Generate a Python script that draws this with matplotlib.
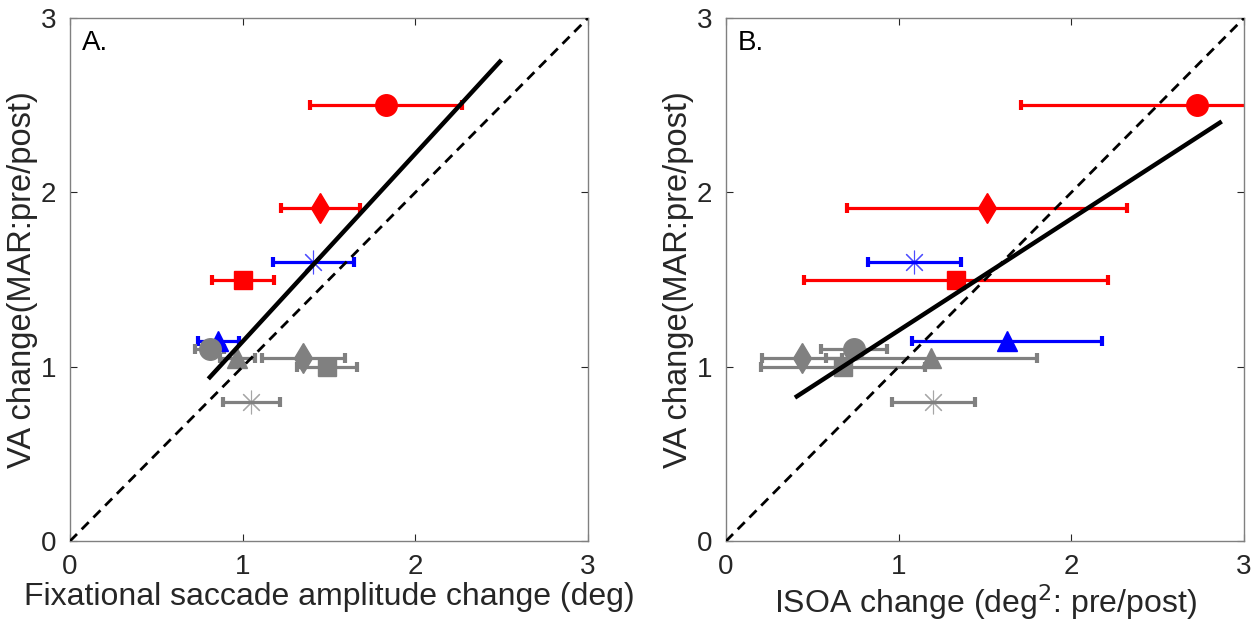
# -*- coding: utf-8 -*-
import matplotlib
matplotlib.use('Agg')
import matplotlib.pyplot as plt

plt.rcParams['font.family'] = ['Liberation Sans', 'DejaVu Sans']

# one entry per condition, same order in both panels
markers = ['o', 'd', 'ast', 's', '^', 'o', '^', 'd', 's', 'ast']
colors = ['red', 'red', 'blue', 'red', 'blue', 'gray', 'gray', 'gray', 'gray', 'gray']
va_change = [2.5, 1.91, 1.6, 1.5, 1.15, 1.10, 1.05, 1.05, 1.0, 0.8]

sacc_change = [1.83, 1.45, 1.41, 1.0, 0.86, 0.81, 0.97, 1.35, 1.49, 1.05]
sacc_err = [0.44, 0.23, 0.235, 0.18, 0.12, 0.085, 0.10, 0.24, 0.175, 0.165]

isoa_change = [2.73, 1.51, 1.09, 1.33, 1.63, 0.74, 1.19, 0.44, 0.68, 1.20]
isoa_err = [1.02, 0.81, 0.27, 0.88, 0.55, 0.19, 0.61, 0.23, 0.475, 0.24]

# regression line end points
fitA_x = [0.81, 2.49]
fitA_y = [0.94, 2.75]
fitB_x = [0.41, 2.86]
fitB_y = [0.83, 2.40]

ticks = [0, 1, 2, 3]

marker_size = {'o': 15.5, 'd': 15, 's': 12.5, '^': 15, 'ast': 17}


def panel(ax, x, xerr, fit_x, fit_y, xlabel, letter):
    for xi, ei, yi, m, c in zip(x, xerr, va_change, markers, colors):
        ax.errorbar(xi, yi, xerr=ei, fmt='none', ecolor=c, elinewidth=2.3,
                    capsize=3.3, capthick=3, zorder=2)
        if m == 'ast':
            ax.plot(xi, yi, marker=(8, 2, 0), ms=marker_size[m], mec=c,
                    mew=0.8, alpha=0.7, ls='none', zorder=3)
        else:
            ax.plot(xi, yi, marker=m, ms=marker_size[m], mfc=c, mec=c,
                    ls='none', zorder=3)

    ax.plot([0, 3], [0, 3], color='k', lw=2, ls=(0, (3.6, 2.4)), zorder=4)
    ax.plot(fit_x, fit_y, 'k-', lw=3.2, zorder=4)

    ax.set_xlim(0, 3)
    ax.set_ylim(0, 3)
    ax.set_xticks(ticks)
    ax.set_yticks(ticks)
    ax.tick_params(direction='in', top=True, right=True, labelsize=20,
                   colors='#262626', length=5, width=0.8)
    ax.tick_params(axis='x', pad=9)
    ax.tick_params(axis='y', pad=10)
    for s in ax.spines.values():
        s.set_color('#808080')
        s.set_linewidth(1)
    ax.set_xlabel(xlabel, fontsize=23, color='#262626', labelpad=2)
    ax.set_ylabel('VA change(MAR:pre/post)', fontsize=23.5, color='#262626',
                  labelpad=2)
    ax.text(0.07, 2.93, letter, fontsize=20, va='top', ha='left')


fig = plt.figure(figsize=(12.58, 6.22), dpi=100)
axA = fig.add_axes([0.0556, 0.130, 0.4118, 0.841])
axB = fig.add_axes([0.5771, 0.130, 0.4118, 0.841])

panel(axA, sacc_change, sacc_err, fitA_x, fitA_y,
      'Fixational saccade amplitude change (deg)', 'A.')
panel(axB, isoa_change, isoa_err, fitB_x, fitB_y,
      'ISOA change (deg$^2$: pre/post)', 'B.')

fig.savefig('out.png', dpi=100)
